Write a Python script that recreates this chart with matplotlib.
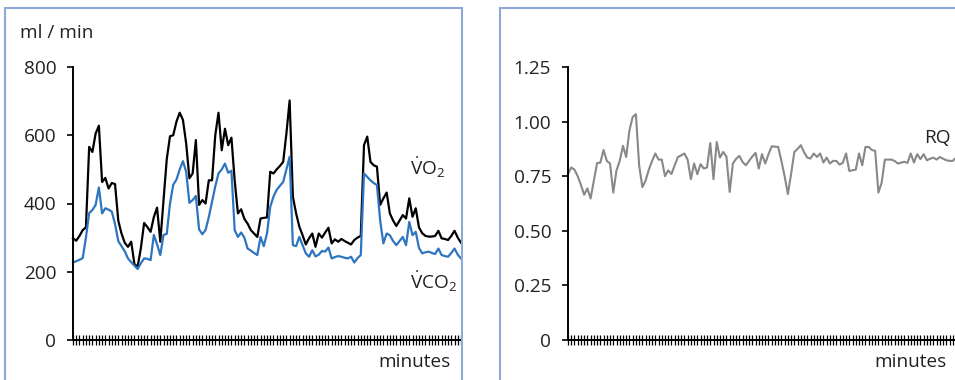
import numpy as np
import matplotlib
matplotlib.use("Agg")
import matplotlib.pyplot as plt
from matplotlib.patches import Rectangle

# oxygen uptake and CO2 output per sample (ml/min)
vo2 = [298, 291, 305, 322, 330, 566, 551, 605, 628, 463,
       475, 444, 460, 457, 350, 312, 285, 273, 288, 222,
       215, 270, 343, 331, 317, 360, 388, 288, 410, 530,
       597, 600, 640, 666, 645, 576, 474, 488, 586, 396,
       410, 400, 468, 468, 600, 666, 556, 619, 571, 593,
       468, 371, 383, 355, 341, 322, 312, 302, 356, 358,
       359, 493, 488, 500, 510, 522, 605, 702, 420, 371,
       332, 307, 280, 298, 312, 273, 312, 300, 315, 329,
       283, 295, 288, 296, 290, 285, 280, 293, 300, 305,
       571, 596, 522, 512, 508, 396, 415, 432, 371, 350,
       334, 350, 366, 356, 415, 361, 386, 330, 313, 305,
       303, 303, 305, 320, 298, 296, 293, 305, 320, 300,
       285]
vco2 = [227, 231, 235, 240, 300, 372, 381, 396, 447, 371,
        386, 382, 376, 340, 290, 275, 260, 239, 228, 218,
        208, 225, 239, 238, 234, 308, 280, 249, 308, 311,
        400, 455, 470, 500, 524, 493, 402, 410, 422, 324,
        310, 322, 360, 405, 450, 488, 500, 517, 490, 496,
        322, 302, 315, 300, 268, 262, 255, 249, 302, 275,
        312, 390, 420, 440, 452, 463, 500, 537, 278, 275,
        302, 278, 254, 244, 263, 245, 250, 261, 259, 271,
        239, 243, 246, 244, 241, 239, 244, 227, 240, 249,
        488, 478, 468, 460, 454, 350, 283, 312, 307, 290,
        278, 290, 302, 278, 346, 307, 317, 270, 254, 257,
        259, 255, 252, 268, 249, 246, 244, 255, 268, 250,
        239]
# respiratory quotient per sample
rq = [0.76, 0.79, 0.78, 0.75, 0.71, 0.665, 0.694, 0.648, 0.73, 0.81,
      0.812, 0.87, 0.82, 0.808, 0.675, 0.777, 0.82, 0.889, 0.838, 0.96,
      1.021, 1.034, 0.80, 0.70, 0.73, 0.78, 0.82, 0.854, 0.826, 0.826,
      0.75, 0.777, 0.76, 0.80, 0.838, 0.845, 0.854, 0.826, 0.736, 0.808,
      0.759, 0.805, 0.785, 0.79, 0.902, 0.736, 0.907, 0.835, 0.861, 0.84,
      0.678, 0.808, 0.83, 0.843, 0.815, 0.80, 0.82, 0.84, 0.857, 0.785,
      0.851, 0.808, 0.85, 0.887, 0.885, 0.884, 0.82, 0.75, 0.668, 0.76,
      0.861, 0.875, 0.892, 0.86, 0.835, 0.831, 0.854, 0.838, 0.854, 0.8125,
      0.835, 0.808, 0.82, 0.82, 0.803, 0.811, 0.854, 0.774, 0.777, 0.780,
      0.854, 0.80, 0.884, 0.884, 0.87, 0.866, 0.675, 0.72, 0.826, 0.826,
      0.826, 0.82, 0.808, 0.812, 0.816, 0.811, 0.854, 0.8125, 0.851, 0.828,
      0.851, 0.823, 0.83, 0.835, 0.826, 0.838, 0.83, 0.823, 0.82, 0.82,
      0.835]
left_ticks = [0, 200, 400, 600, 800]
left_labels = ["0", "200", "400", "600", "800"]
right_ticks = [0, 0.25, 0.5, 0.75, 1.0, 1.25]
right_labels = ["0", "0.25", "0.50", "0.75", "1.00", "1.25"]

plt.rcParams['font.family'] = ['Open Sans', 'DejaVu Sans']
plt.rcParams['mathtext.fontset'] = 'custom'
plt.rcParams['mathtext.rm'] = 'Open Sans'
plt.rcParams['mathtext.it'] = 'Open Sans'

W, H = 955, 380
FS = 13.7
fig = plt.figure(figsize=(W / 100, H / 100), dpi=100)

def px(x, y):
    return x / W, 1 - y / H

# light blue boxes round each panel, running off the bottom edge
frame_col = "#8DA9D8"
for x0, x1 in [(5, 462), (500, 1000)]:
    fig.patches.append(Rectangle(px(x0, 420), (x1 - x0) / W, 412 / H,
                                 transform=fig.transFigure, fill=False,
                                 edgecolor=frame_col, lw=1.5, clip_on=False))

def setup(ax, ymax, ticks, labels):
    n = len(vo2) - 1
    ax.set_xlim(0, n)
    ax.set_ylim(0, ymax)
    for s in ["top", "right"]:
        ax.spines[s].set_visible(False)
    for s in ["left", "bottom"]:
        ax.spines[s].set_linewidth(1.4)
        ax.spines[s].set_color("black")
    ax.set_yticks(ticks)
    ax.set_yticklabels(labels)
    ax.tick_params(axis="y", direction="out", length=4, width=1.2,
                   pad=8, labelsize=FS, labelcolor="#222222")
    # one crossing tick per sample
    ax.set_xticks(np.arange(0, n + 1))
    ax.set_xticklabels([])
    ax.tick_params(axis="x", direction="inout", length=6.5, width=0.9)
    ax.patch.set_visible(False)

x = np.arange(len(vo2))

ax1 = fig.add_axes([73 / W, 40 / H, 388 / W, 273 / H])
setup(ax1, 800, left_ticks, left_labels)
ax1.plot(x, vo2, color="black", lw=1.6, clip_on=False)
ax1.plot(x, vco2, color="#2E75C0", lw=1.6, clip_on=False)

ax2 = fig.add_axes([568 / W, 40 / H, 388 / W, 273 / H])
setup(ax2, 1.25, right_ticks, right_labels)
ax2.plot(x, rq, color="#888888", lw=1.5, clip_on=False)

tc = "#222222"
fig.text(*px(20, 33), "ml / min", fontsize=FS, va="center", color=tc)
fig.text(*px(451, 362), "minutes", fontsize=FS, va="center", ha="right", color=tc)
fig.text(*px(947, 362), "minutes", fontsize=FS, va="center", ha="right", color=tc)
fig.text(*px(410, 168), r"$\dot{\mathrm{V}}\mathrm{O}_2$", fontsize=FS,
         va="center", color=tc)
fig.text(*px(410, 282), r"$\dot{\mathrm{V}}\mathrm{CO}_2$", fontsize=FS,
         va="center", color=tc)
fig.text(*px(924, 138), "RQ", fontsize=FS, va="center", color=tc)

fig.savefig("out.png", dpi=100)
